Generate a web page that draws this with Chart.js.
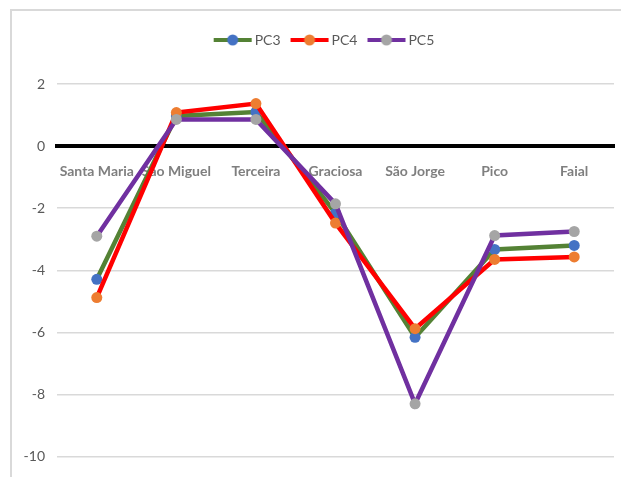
<!DOCTYPE html>
<html>
<head>
<meta charset="utf-8">
<script src="https://cdn.jsdelivr.net/npm/chart.js@4/dist/chart.umd.min.js"></script>
<style>
    body { margin: 0; background: #ffffff; }
    #wrap { position: relative; width: 621px; height: 477px; overflow: hidden; }
    #frame {
        position: absolute; left: 10px; top: 9px; width: 700px; height: 600px;
        border-top: 2px solid #d9d9d9; border-left: 2px solid #d9d9d9;
        pointer-events: none;
    }
</style>
</head>
<body>
<div id="wrap">
    <canvas id="mainChart" width="621" height="477"></canvas>
    <div id="frame"></div>
</div>
<script>
// Chart data
const islands = ['Santa Maria', 'São Miguel', 'Terceira', 'Graciosa', 'São Jorge', 'Pico', 'Faial'];
const pc3 = [-4.29, 0.97, 1.1, -2.16, -6.16, -3.33, -3.2];
const pc4 = [-4.88, 1.08, 1.37, -2.48, -5.88, -3.65, -3.57];
const pc5 = [-2.9, 0.86, 0.86, -1.86, -8.3, -2.88, -2.75];
const yTicks = [2, 0, -2, -4, -6, -8, -10];

// Small line + marker pictures for the legend
function legendIcon(lineColor, markerColor) {
    const c = document.createElement('canvas');
    c.width = 40;
    c.height = 14;
    const g = c.getContext('2d');
    g.strokeStyle = lineColor;
    g.lineWidth = 4;
    g.beginPath();
    g.moveTo(1, 7);
    g.lineTo(39, 7);
    g.stroke();
    g.fillStyle = markerColor;
    g.beginPath();
    g.arc(20, 7, 5.5, 0, Math.PI * 2);
    g.fill();
    return c;
}

const series = [
    { label: 'PC3', data: pc3, line: '#548235', marker: '#4472c4', order: 3 },
    { label: 'PC4', data: pc4, line: '#ff0000', marker: '#ed7d31', order: 2 },
    { label: 'PC5', data: pc5, line: '#7030a0', marker: '#a5a5a5', order: 1 }
];
const icons = series.map(s => legendIcon(s.line, s.marker));

// Leave room between legend and plot, and nudge the legend right like the original
const legendTweaks = {
    id: 'legendTweaks',
    afterInit(chart) {
        const legend = chart.legend;
        const fit = legend.fit;
        legend.fit = function () {
            fit.call(this);
            this.height += 27;
        };
        const draw = legend.draw;
        legend.draw = function () {
            this.ctx.save();
            this.ctx.translate(19, 0);
            draw.call(this);
            this.ctx.restore();
        };
    }
};

const ctx = document.getElementById('mainChart').getContext('2d');
new Chart(ctx, {
    type: 'line',
    data: {
        labels: islands,
        datasets: series.map(s => ({
            label: s.label,
            data: s.data,
            order: s.order,
            borderColor: s.line,
            borderWidth: 4.5,
            backgroundColor: s.marker,
            pointBackgroundColor: s.marker,
            pointBorderColor: s.marker,
            pointBorderWidth: 0,
            pointRadius: 5.5,
            tension: 0
        }))
    },
    options: {
        responsive: false,
        animation: false,
        layout: { padding: { top: 19, left: 0, right: 7, bottom: 18 } },
        plugins: {
            tooltip: { enabled: false },
            legend: {
                position: 'top',
                labels: {
                    usePointStyle: true,
                    pointStyleWidth: 30,
                    padding: 14,
                    color: '#595959',
                    font: { family: 'Lato', size: 14 },
                    sort: (a, b) => a.datasetIndex - b.datasetIndex,
                    generateLabels(chart) {
                        return Chart.defaults.plugins.legend.labels.generateLabels(chart).map(item => {
                            item.pointStyle = icons[item.datasetIndex];
                            return item;
                        });
                    }
                }
            }
        },
        scales: {
            x: {
                offset: true,
                position: { y: 0 },
                grid: { display: false, drawTicks: false },
                border: { display: true, color: '#000000', width: 4 },
                ticks: {
                    autoSkip: false,
                    maxRotation: 0,
                    padding: 17,
                    color: '#7f7f7f',
                    font: { family: 'Lato', size: 14, weight: 'bold' }
                }
            },
            y: {
                min: -10,
                max: 2,
                afterFit(scale) { scale.width = 57; },
                afterBuildTicks(scale) { scale.ticks = yTicks.map(v => ({ value: v })); },
                grid: { color: '#d9d9d9', lineWidth: 1.5, drawTicks: false },
                border: { display: false },
                ticks: {
                    padding: 12,
                    color: '#595959',
                    font: { family: 'Lato', size: 14 }
                }
            }
        }
    },
    plugins: [legendTweaks]
});
</script>
</body>
</html>
